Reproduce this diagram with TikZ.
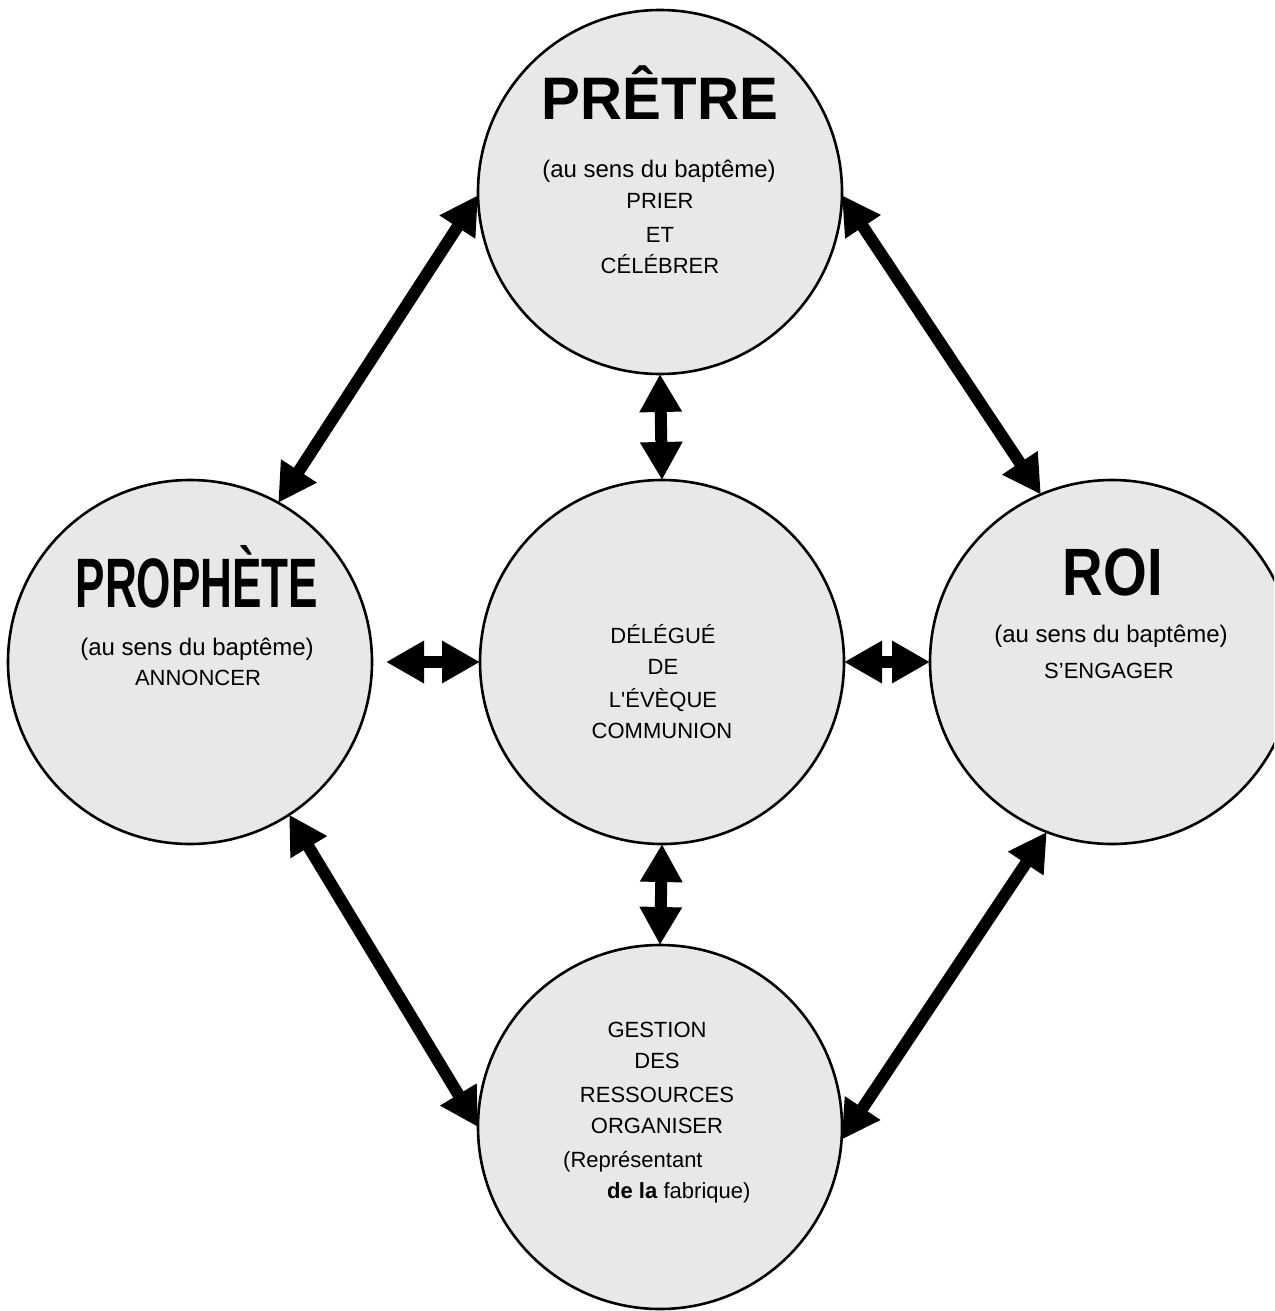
\documentclass[tikz,border=0pt]{standalone}
\usepackage{fontspec}
\setmainfont{Liberation Sans}
\usetikzlibrary{arrows.meta}
\begin{document}
\begin{tikzpicture}[x=1pt,y=-1pt,
  disc/.style={circle,draw=black,line width=2.6pt,fill=black!9,minimum size=364pt,inner sep=0pt,outer sep=0pt},
  lbl/.style={anchor=base,inner sep=0pt,font=\fontsize{22}{22}\selectfont},
  sub/.style={anchor=base,inner sep=0pt,font=\fontsize{24}{24}\selectfont},
  ttl/.style={anchor=base,inner sep=0pt},
  link/.style={line width=12pt,{Triangle[length=38pt,width=40pt]}-{Triangle[length=38pt,width=40pt]}}]
\useasboundingbox (0,0) rectangle (1274,1311);
\clip (0,0) rectangle (1274,1311);
% circles
\node[disc] (pretre) at (660,192) {};
\node[disc] (prophete) at (190,662) {};
\node[disc] (delegue) at (662,662) {};
\node[disc] (roi) at (1112,662) {};
\node[disc] (gestion) at (660,1127) {};
% top texts
\node[ttl] (t1) at (660,120) {\scalebox{0.97}[1]{\fontsize{60}{60}\selectfont\bfseries PRÊTRE}};
\node[sub] (t2) at (659,177) {(au sens du baptême)};
\node[lbl] (t3) at (660,208) {PRIER};
\node[lbl] (t4) at (660,242) {ET};
\node[lbl] (t5) at (660,273) {CÉLÉBRER};
% left texts
\node[ttl] (l1) at (197,607) {\scalebox{0.63}[1]{\fontsize{70}{70}\selectfont\bfseries PROPHÈTE}};
\node[sub] (l2) at (197,655) {(au sens du baptême)};
\node[lbl] (l3) at (198,685) {ANNONCER};
% center texts
\node[lbl] (c1) at (663,643) {DÉLÉGUÉ};
\node[lbl] (c2) at (663,674) {DE};
\node[lbl] (c3) at (663,707) {L\textquotesingle ÉVÈQUE};
\node[lbl] (c4) at (662,738) {COMMUNION};
% right texts
\node[ttl] (r1) at (1113,595) {\scalebox{0.84}[1]{\fontsize{67}{67}\selectfont\bfseries ROI}};
\node[sub] (r2) at (1111,642) {(au sens du baptême)};
\node[lbl] (r3) at (1109,678) {S’ENGAGER};
% bottom texts
\node[lbl] (b1) at (657,1037) {GESTION};
\node[lbl] (b2) at (657,1068) {DES};
\node[lbl] (b3) at (657,1102) {RESSOURCES};
\node[lbl] (b4) at (657,1133) {ORGANISER};
\node[lbl,anchor=base west] (b5) at (563,1167) {(Représentant};
\node[lbl,anchor=base west] (b6) at (607,1198) {\textbf{de la} fabrique)};
% arrows
\draw[link] (pretre.181) -- (prophete.61);
\draw[link] (pretre.359) -- (roi.113);
\draw[link] (prophete.303) -- (gestion.180);
\draw[link] (roi.249) -- (gestion.356);
\draw[link] (pretre.270) -- (delegue.90);
\draw[link] (delegue.270) -- (gestion.90);
\draw[link,shorten <=14pt] (prophete.0) -- (delegue.180);
\draw[link] (delegue.0) -- (roi.180);
\end{tikzpicture}
\end{document}
